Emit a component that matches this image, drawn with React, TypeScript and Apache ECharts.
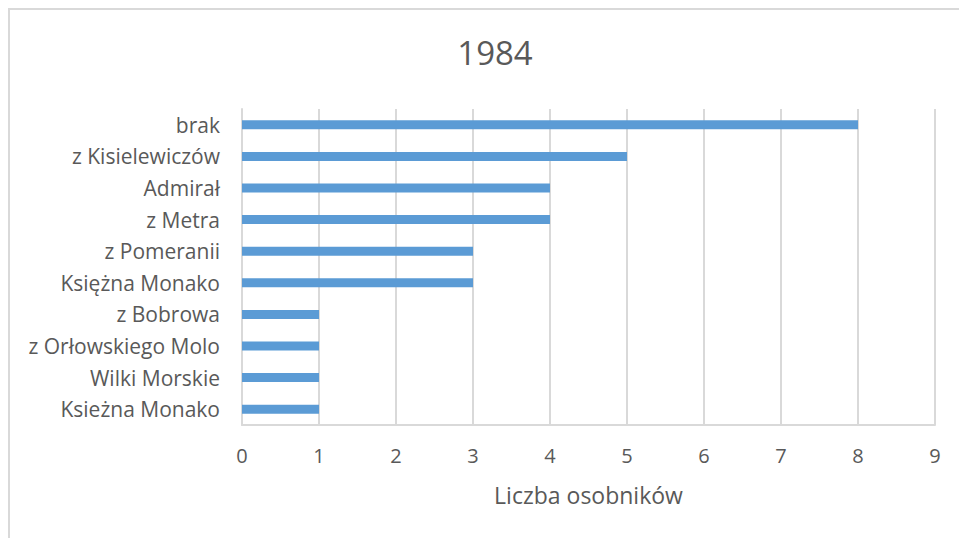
import React, { useEffect, useRef } from "react";
import * as echarts from "echarts";

const categories = [
  "brak",
  "z Kisielewiczów",
  "Admirał",
  "z Metra",
  "z Pomeranii",
  "Księżna Monako",
  "z Bobrowa",
  "z Orłowskiego Molo",
  "Wilki Morskie",
  "Ksieżna Monako",
];
const counts = [8, 5, 4, 4, 3, 3, 1, 1, 1, 1];
const titleText = "1984";
const xAxisName = "Liczba osobników";

export default function App() {
  const ref = useRef<HTMLDivElement>(null);
  useEffect(() => {
    if (!ref.current) return;
    const chart = echarts.init(ref.current, undefined, { renderer: "svg" });
    const font = "'Open Sans', sans-serif";
    chart.setOption({
      animation: false,
      backgroundColor: "#ffffff",
      textStyle: { fontFamily: font },
      title: {
        text: titleText,
        left: 490,
        top: 31,
        textAlign: "center",
        textStyle: { fontFamily: font, fontSize: 33, fontWeight: "normal", color: "#595959" },
      },
      graphic: [
        {
          type: "rect",
          shape: { x: 9, y: 9, width: 1000, height: 600 },
          style: { fill: "none", stroke: "#d9d9d9", lineWidth: 2 },
          silent: true,
        },
      ],
      grid: { left: 242, top: 109, right: 24, bottom: 113 },
      xAxis: {
        type: "value",
        min: 0,
        max: 9,
        interval: 1,
        name: xAxisName,
        nameLocation: "middle",
        nameGap: 58,
        nameTextStyle: { fontFamily: font, fontSize: 23, color: "#595959" },
        axisLine: { show: true, lineStyle: { color: "#d9d9d9", width: 2 } },
        axisTick: { show: false },
        axisLabel: { margin: 20, fontFamily: font, fontSize: 20, color: "#595959" },
        splitLine: { show: true, lineStyle: { color: "#d9d9d9", width: 2 } },
      },
      yAxis: {
        type: "category",
        inverse: true,
        data: categories,
        axisLine: { show: true, lineStyle: { color: "#d9d9d9", width: 2 } },
        axisTick: { show: false },
        axisLabel: { margin: 22, fontFamily: font, fontSize: 21, color: "#595959" },
        splitLine: { show: false },
      },
      series: [
        {
          type: "bar",
          data: counts,
          barWidth: 9,
          itemStyle: { color: "#5B9BD5" },
        },
      ],
    });
    return () => chart.dispose();
  }, []);
  return (
    <div
      ref={ref}
      style={{ position: "absolute", left: 0, top: 0, width: 959, height: 538 }}
    />
  );
}
